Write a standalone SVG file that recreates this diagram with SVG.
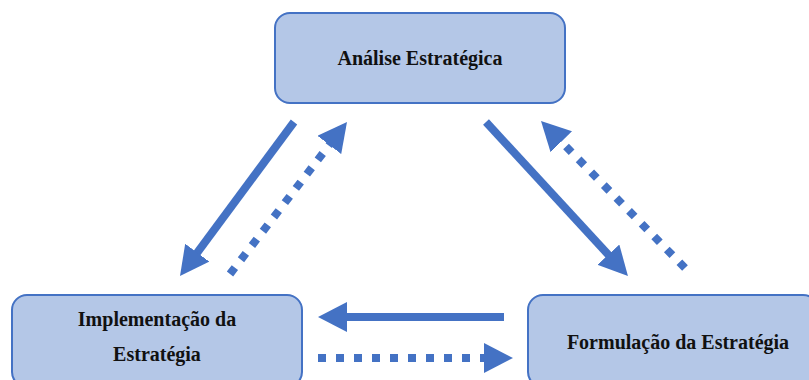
<svg xmlns="http://www.w3.org/2000/svg" width="809" height="380" viewBox="0 0 809 380">
  <style>
    .box { fill: #B4C7E7; stroke: #4472C4; stroke-width: 2; }
    .label { font-family: "Liberation Serif", "Times New Roman", serif; font-weight: bold; font-size: 20px; fill: #111; text-anchor: middle; }
    .solid { stroke: #4472C4; stroke-width: 8; fill: none; marker-end: url(#head); }
    .dotted { stroke: #4472C4; stroke-width: 8; fill: none; stroke-dasharray: 8 10; marker-end: url(#head); }
  </style>
  <defs>
    <marker id="head" markerUnits="userSpaceOnUse" markerWidth="30" markerHeight="30" refX="9" refY="15" orient="auto">
      <path d="M0,0 L29,15 L0,30 z" fill="#4472C4"/>
    </marker>
  </defs>
  <rect width="809" height="380" fill="#fff"/>

  <g id="analise">
    <rect class="box" x="275" y="13" width="290" height="90" rx="15"/>
    <text class="label" x="420" y="65">Análise Estratégica</text>
  </g>

  <g id="implementacao">
    <rect class="box" x="12" y="295" width="290" height="92" rx="15"/>
    <text class="label" x="157" y="326">Implementação da</text>
    <text class="label" x="157" y="361">Estratégia</text>
  </g>

  <g id="formulacao">
    <rect class="box" x="528" y="295" width="290" height="92" rx="15"/>
    <text class="label" x="678" y="349">Formulação da Estratégia</text>
  </g>

  <g id="connectors">
    <line class="solid" x1="294" y1="122" x2="191.9" y2="259.9"/>
    <line class="dotted" x1="230" y1="274" x2="334.8" y2="137.8"/>
    <line class="solid" x1="486" y1="122" x2="614.4" y2="261.3"/>
    <line class="dotted" x1="685" y1="268" x2="555" y2="135.3"/>
    <line class="solid" x1="504" y1="317" x2="338" y2="317"/>
    <line class="dotted" x1="318" y1="358" x2="493" y2="358"/>
  </g>
</svg>
